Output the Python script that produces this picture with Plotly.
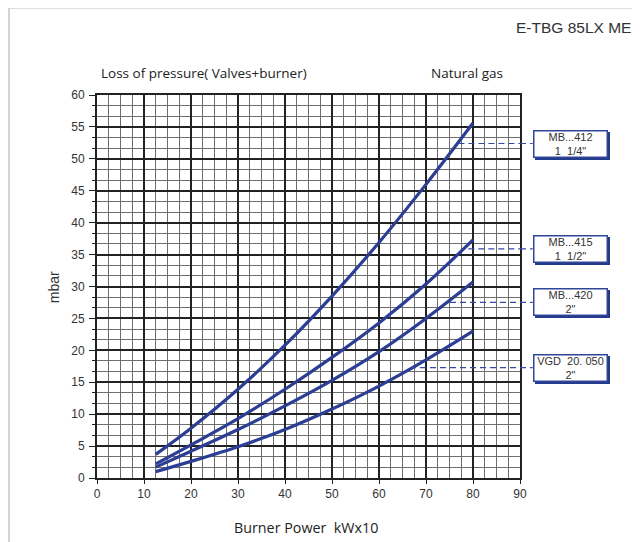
import plotly.graph_objects as go

# ---- data ----
power = [12.5, 20, 30, 40, 50, 60, 70, 80]
mb412 = [3.7, 7.8, 13.9, 20.8, 28.5, 36.9, 46.0, 55.6]
mb415 = [2.2, 5.2, 9.3, 13.9, 18.9, 24.3, 30.4, 37.3]
mb420 = [1.7, 4.2, 7.6, 11.3, 15.3, 19.8, 25.0, 30.7]
vgd = [1.0, 2.6, 4.9, 7.6, 10.8, 14.4, 18.5, 23.0]

series_names = ["MB...412<br>1  1/4\"", "MB...415<br>1  1/2\"", "MB...420<br>2\"", "VGD  20. 050<br>2\""]
leader_y = [52.4, 35.9, 27.5, 17.3]
leader_x = [76.9, 79.0, 75.1, 66.6]

x_ticks = [0, 10, 20, 30, 40, 50, 60, 70, 80, 90]
y_ticks = [0, 5, 10, 15, 20, 25, 30, 35, 40, 45, 50, 55, 60]

curve_color = "#2b3e94"
leader_color = "#3349a3"
text_color = "#333333"

fig = go.Figure()
for ys in [mb412, mb415, mb420, vgd]:
    fig.add_trace(go.Scatter(x=power, y=ys, mode="lines", line=dict(color=curve_color, width=3.2, shape="spline", smoothing=1.0), showlegend=False, hoverinfo="skip"))

# dashed leaders inside plot
for lx, ly in zip(leader_x, leader_y):
    fig.add_trace(go.Scatter(x=[lx, x_ticks[-1]], y=[ly, ly], mode="lines", line=dict(color=leader_color, width=1.2, dash="6px,4px"), showlegend=False, hoverinfo="skip"))
    fig.add_shape(type="line", xref="paper", yref="y", x0=1.0, x1=1.03, y0=ly, y1=ly, line=dict(color=leader_color, width=1.2, dash="6px,4px"))

# boxes
for name, ly in zip(series_names, leader_y):
    fig.add_annotation(xref="paper", yref="y", x=1.03, y=ly, xanchor="left", yanchor="middle", text=" ",
                       showarrow=False, width=70, height=23, bgcolor="#243a8c", bordercolor="#243a8c", borderwidth=1.5,
                       xshift=2, yshift=-2)
    fig.add_annotation(xref="paper", yref="y", x=1.03, y=ly, xanchor="left", yanchor="middle", text=name,
                       showarrow=False, width=70, height=23, bgcolor="white", bordercolor="#2f4699", borderwidth=1.5,
                       font=dict(family="Liberation Sans", size=11, color=text_color), align="center")

# outer frame decoration
fig.add_shape(type="line", xref="paper", yref="paper", x0=-0.208, x1=1.3, y0=1.2275, y1=1.2275, line=dict(color="#d4d4d4", width=2))
fig.add_shape(type="line", xref="paper", yref="paper", x0=-0.208, x1=-0.208, y0=1.2275, y1=-0.2, line=dict(color="#d4d4d4", width=2))

# texts
fig.add_annotation(xref="paper", yref="paper", x=1.268, y=1.175, xanchor="right", yanchor="middle", text="E-TBG 85LX ME",
                   showarrow=False, font=dict(family="Liberation Sans", size=15.5, color=text_color))
fig.add_annotation(xref="paper", yref="paper", x=0.005, y=1.0575, xanchor="left", yanchor="middle", text="Loss of pressure( Valves+burner)",
                   showarrow=False, font=dict(family="Open Sans", size=13.5, color="#222222"))
fig.add_annotation(xref="paper", yref="paper", x=0.785, y=1.0575, xanchor="left", yanchor="middle", text="Natural gas",
                   showarrow=False, font=dict(family="Open Sans", size=13.5, color="#222222"))
fig.add_annotation(xref="paper", yref="paper", x=0.494, y=-0.129, xanchor="center", yanchor="middle", text="Burner Power  kWx10",
                   showarrow=False, font=dict(family="Open Sans", size=14.3, color="#222222"))
fig.add_annotation(xref="paper", yref="paper", x=-0.1017, y=0.498, xanchor="center", yanchor="middle", text="mbar", textangle=-90,
                   showarrow=False, font=dict(family="Liberation Sans", size=14, color=text_color))

fig.update_layout(
    width=632, height=534,
    margin=dict(l=89, r=120, t=87, b=64),
    paper_bgcolor="white", plot_bgcolor="white",
    showlegend=False,
)
fig.update_xaxes(range=[x_ticks[0], x_ticks[-1]], tickvals=x_ticks, showgrid=True, gridcolor="#222222", gridwidth=1.5,
                 minor=dict(dtick=2.5, showgrid=True, gridcolor="#6e6e6e", gridwidth=1.3),
                 showline=True, linecolor="#222222", linewidth=2, mirror=True,
                 ticks="outside", ticklen=4, tickcolor="#222222",
                 tickfont=dict(family="Liberation Sans", size=12, color=text_color), zeroline=False, fixedrange=True)
fig.update_yaxes(range=[y_ticks[0], y_ticks[-1]], tickvals=y_ticks, showgrid=True, gridcolor="#222222", gridwidth=1.5,
                 minor=dict(dtick=5/3, showgrid=True, gridcolor="#6e6e6e", gridwidth=1.3, ticks="outside", ticklen=3, tickcolor="#222222"),
                 showline=True, linecolor="#222222", linewidth=2, mirror=True,
                 ticks="outside", ticklen=6, tickcolor="#222222", ticklabelstandoff=2,
                 tickfont=dict(family="Liberation Sans", size=12, color=text_color), zeroline=False, fixedrange=True)

fig.write_html("out.html")
